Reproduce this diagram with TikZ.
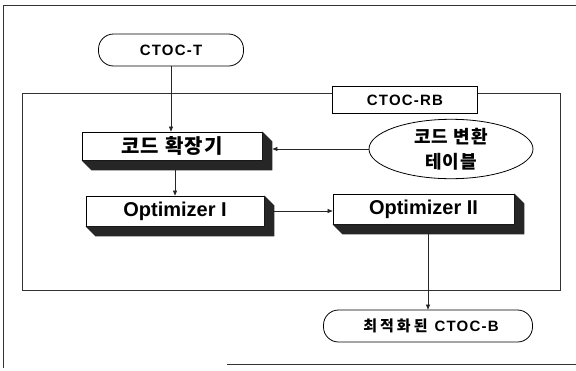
\documentclass[tikz,border=0pt]{standalone}
\usepackage{fontspec}
\setmainfont{Liberation Sans}
\newfontfamily\kr{Noto Sans CJK KR}
\usetikzlibrary{arrows.meta,calc,shapes.geometric}
\begin{document}
\begin{tikzpicture}[x=1pt,y=-1pt,
  frameln/.style={line width=0.9pt, draw=black!80},
  conn/.style={draw=black!85, line width=0.6pt, -{Triangle[length=5pt,width=4pt]}},
  term/.style={draw, line width=0.8pt, rounded corners=15pt, minimum height=32pt, inner sep=0pt, fill=white},
  boxf/.style={draw, line width=0.8pt, fill=white, minimum height=30pt, inner sep=0pt},
  latsmall/.style={font=\fontsize{15}{17}\selectfont\bfseries\addfontfeatures{LetterSpace=8}},
  big/.style={font=\fontsize{20}{22}\selectfont\bfseries},
  krbig/.style={font=\fontsize{20}{22}\selectfont\kr\bfseries\addfontfeatures{LetterSpace=6}},
  krmid/.style={font=\fontsize{18}{25}\selectfont\kr\bfseries\addfontfeatures{LetterSpace=6}},
  ]
\useasboundingbox (0,0) rectangle (576,370);
% outer frame
\draw[frameln] (3,368) -- (3,5) -- (576,5);
\draw[frameln] (227,364) -- (576,364);
% inner frame
\node[frameln, draw, minimum width=538pt, minimum height=197pt, inner sep=0pt] (rbframe) at (291,191.5) {};
\node[draw, line width=0.8pt, fill=white, minimum width=145pt, minimum height=27pt, inner sep=0pt, latsmall] (rb) at (405,100) {CTOC-RB};
% terminals
\node[term, minimum width=145pt, latsmall] (ctoct) at (171,50) {CTOC-T};
\node[term, minimum width=209pt] (out) at (428,326) {\hspace*{6pt}\fontsize{15}{17}\selectfont\bfseries{\kr\addfontfeatures{LetterSpace=20}최적화된}\hspace{7pt}{\addfontfeatures{LetterSpace=8}CTOC-B}};
% boxes
\node[boxf, minimum width=180pt, minimum height=28pt, krbig] (expander) at (172,146) {코드 확장기};
\node[boxf, minimum width=178pt, big] (opt1) at (175,211) {Optimizer I};
\node[boxf, minimum width=181pt, big] (opt2) at (423.5,209) {Optimizer II};
\foreach \n in {expander,opt1,opt2}
  \fill[black!85] (\n.north east) -- ++(10,10) -- ($(\n.south east)+(10,10)$) -- ($(\n.south west)+(10,10)$) -- (\n.south west) -- (\n.south east) -- cycle;
% table ellipse
\node[ellipse, draw, line width=0.8pt, minimum width=164pt, minimum height=56pt, inner sep=0pt, align=center, krmid] (table) at (451,149) {코드 변환\\테이블};
% connectors
\draw[conn] (ctoct.south) -- (ctoct.south |- expander.north);
\draw[conn] ([xshift=3pt,yshift=-10pt]expander.south) -- (opt1.north);
\draw[conn] (table.west) -- ([xshift=10pt]expander.east |- table.west);
\draw[conn] ([xshift=10pt]opt1.east) -- (opt1.east -| opt2.west);
\draw[conn] ([xshift=4.5pt,yshift=-10pt]opt2.south) -- (out.north);
\end{tikzpicture}
\end{document}
